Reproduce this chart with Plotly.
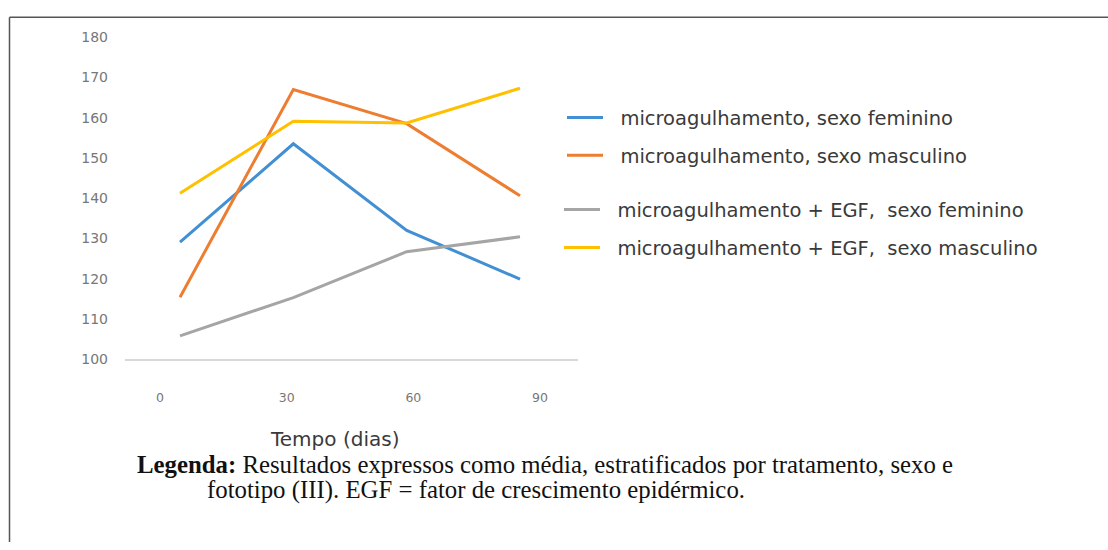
import plotly.graph_objects as go

# Time points (days) and mean values per group
dias = [0, 30, 60, 90]
tick_labels = ["0", "30", "60", "90"]

micro_fem = [129.1, 153.5, 132.0, 119.9]
micro_masc = [115.4, 167.0, 158.5, 140.6]
egf_fem = [105.8, 115.3, 126.7, 130.4]
egf_masc = [141.2, 159.1, 158.7, 167.3]

series_names = [
    "microagulhamento, sexo feminino",
    "microagulhamento, sexo masculino",
    "microagulhamento + EGF,\u00a0 sexo feminino",
    "microagulhamento + EGF,\u00a0 sexo masculino",
]
series_values = [micro_fem, micro_masc, egf_fem, egf_masc]
series_colors = ["#4290d3", "#ed7d31", "#a5a5a5", "#ffc000"]

W, H = 1108, 550


def px_x(v):
    return v / W


def px_y(v):
    return 1 - v / H


fig = go.Figure()

legend_ids = ["legend", "legend2", "legend3", "legend4"]
pad = "\u00a0\u00a0"
for name, vals, color, lg in zip(series_names, series_values, series_colors, legend_ids):
    fig.add_trace(go.Scatter(
        x=dias, y=vals, mode="lines", name=pad + name,
        line=dict(color=color, width=3),
        legend=lg, hoverinfo="skip",
    ))

# Axis carrying the day labels under the plot
fig.add_trace(go.Scatter(
    x=dias, y=[None] * len(dias), xaxis="x2", mode="lines",
    showlegend=False, hoverinfo="skip",
))

legend_font = dict(family="DejaVu Sans", size=19.5, color="#3a3a3a")
legend_rows = [113, 152, 208, 247]
legend_left = [562, 562, 559, 559]
legend_layout = {}
for lg, row, left in zip(legend_ids, legend_rows, legend_left):
    legend_layout[lg] = dict(
        x=px_x(left), y=px_y(row), xanchor="left", yanchor="middle",
        font=legend_font, bgcolor="rgba(0,0,0,0)", borderwidth=0,
        itemwidth=36,
    )

fig.update_layout(
    width=W, height=H,
    margin=dict(l=0, r=0, t=0, b=0),
    paper_bgcolor="white", plot_bgcolor="white",
    xaxis=dict(
        domain=[px_x(125), px_x(578)],
        range=[-14.56, 105.35],
        showticklabels=False, ticks="", showgrid=False, zeroline=False,
        showline=True, linecolor="#d9d9d9", linewidth=2,
    ),
    xaxis2=dict(
        overlaying="x", anchor="y", side="bottom",
        range=[-8.29, 99.0],
        tickvals=dias, ticktext=tick_labels,
        ticks="", showgrid=False, zeroline=False, showline=False,
        tickfont=dict(family="DejaVu Sans", size=12.5, color="#777777"),
        ticklabelstandoff=29,
    ),
    yaxis=dict(
        domain=[px_y(361.7), px_y(30)],
        range=[100, 180], dtick=10,
        ticks="", showgrid=False, zeroline=False, showline=False,
        tickfont=dict(family="DejaVu Sans", size=14, color="#777777"),
        ticklabelstandoff=16,
    ),
    **legend_layout,
    shapes=[
        dict(type="line", xref="paper", yref="paper",
             x0=px_x(9.5), x1=1.0, y0=px_y(9.5), y1=px_y(9.5),
             line=dict(color="#555555", width=1.5)),
        dict(type="line", xref="paper", yref="paper",
             x0=px_x(9.5), x1=px_x(9.5), y0=px_y(9.5), y1=0.0,
             line=dict(color="#555555", width=1.5)),
    ],
    annotations=[
        dict(text="Tempo (dias)", xref="paper", yref="paper",
             x=px_x(334), y=px_y(444), xanchor="center", yanchor="middle",
             showarrow=False,
             font=dict(family="DejaVu Sans", size=20, color="#3a3a3a")),
        dict(text="<b>Legenda:</b> Resultados expressos como média, estratificados por tratamento, sexo e",
             xref="paper", yref="paper",
             x=px_x(135), y=px_y(470), xanchor="left", yanchor="middle",
             showarrow=False,
             font=dict(family="Liberation Serif", size=24.8, color="#111111")),
        dict(text="fototipo (III). EGF = fator de crescimento epidérmico.",
             xref="paper", yref="paper",
             x=px_x(205), y=px_y(496), xanchor="left", yanchor="middle",
             showarrow=False,
             font=dict(family="Liberation Serif", size=24.8, color="#111111")),
    ],
)

fig.write_html("out.html")
